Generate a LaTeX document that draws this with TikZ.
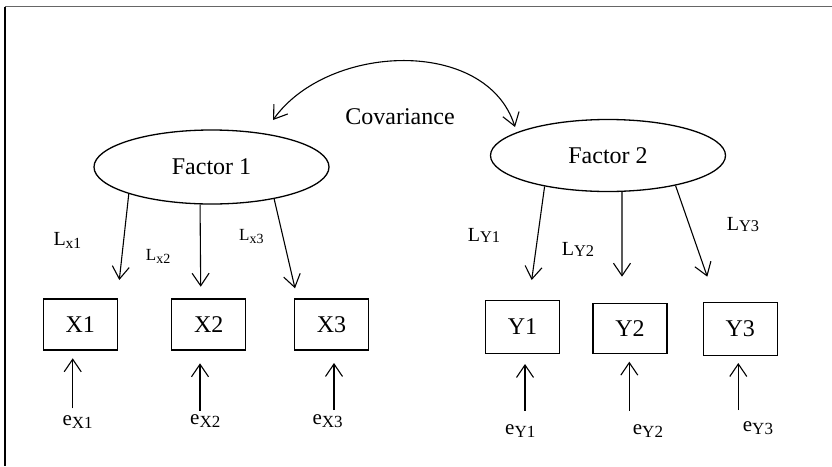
\documentclass[tikz,border=0pt]{standalone}
\usepackage{fontspec}
\setmainfont{Liberation Serif}
\usetikzlibrary{arrows.meta,shapes.geometric}

% symbol with a lowered subscript: main size, symbol, sub size, subscript, drop
\newcommand{\symsub}[5]{{\fontsize{#1}{#1}\selectfont #2}\raisebox{-#5pt}{\fontsize{#3}{#3}\selectfont #4}}

\begin{document}
\begin{tikzpicture}[x=1pt,y=-1pt,
  factor/.style={ellipse,draw,line width=1.3pt,inner sep=0pt,
    minimum width=235pt,minimum height=74pt,font=\fontsize{24}{28}\selectfont},
  obs/.style={rectangle,draw,line width=1.3pt,inner sep=0pt,
    minimum width=74pt,minimum height=51pt,font=\fontsize{24}{28}\selectfont},
  barb/.style={-{Straight Barb[length=12.5pt,width=17pt,line width=1.1pt]},line width=1.1pt},
  lbl/.style={inner sep=0pt,anchor=base west}]

\useasboundingbox (0,0) rectangle (832,466);

% page frame (top and left rules)
\draw[line width=1.6pt,black!60] (4.5,6.5) -- (832,6.5);
\draw[line width=1.3pt] (5,6.5) -- (5,466);

% latent factors
\node[factor] (f1) at (211.5,167) {Factor 1};
\node[factor,minimum height=72pt] (f2) at (608,155.5) {Factor 2};

% covariance between the factors
\coordinate (cvL) at (273,120);
\coordinate (cvR) at (515,127);
\draw[{Straight Barb[length=12.5pt,width=17pt,line width=1.1pt]}-{Straight Barb[length=12.5pt,width=17pt,line width=1.1pt]},line width=1.1pt]
  (cvL) .. controls (328,43) and (486.5,37) .. (cvR);
\node[inner sep=0pt,anchor=base,font=\fontsize{24}{28}\selectfont] (cov) at (400,124.3) {Covariance};

% observed indicators
\node[obs] (x1) at (80.3,324.5) {X1};
\node[obs] (x2) at (208.7,324.5) {X2};
\node[obs] (x3) at (331.5,324.5) {X3};
\node[obs,minimum height=52.6pt] (y1) at (522.5,327) {Y1};
\node[obs,minimum height=50pt] (y2) at (630,328.3) {Y2};
\node[obs,minimum height=53.4pt] (y3) at (740.2,329) {Y3};

% loadings
\coordinate (tx1) at (119.3,280);
\coordinate (tx2) at (200.7,286.7);
\coordinate (tx3) at (295,288.3);
\coordinate (ty1) at (531.7,280);
\coordinate (ty2) at (622,276.7);
\coordinate (ty3) at (707.3,276.7);
\draw[barb] (f1.198.9) -- (tx1);
\draw[barb] (f1.253.6) -- (tx2);
\draw[barb] (f1.333.9) -- (tx3);
\draw[barb] (f2.206.4) -- (ty1);
\draw[barb] (f2.291.3) -- (ty2);
\draw[barb] (f2.336.1) -- (ty3);

\node[lbl] (lx1) at (53.3,245) {\symsub{20}{L}{15.5}{x1}{3}};
\node[lbl] (lx2) at (145.7,260) {\symsub{17}{L}{14}{x2}{3}};
\node[lbl] (lx3) at (239,240) {\symsub{17}{L}{14}{x3}{3}};
\node[lbl] (ly1) at (467.7,241.7) {\symsub{20}{L}{16.4}{Y1}{1}};
\node[lbl] (ly2) at (561.7,255) {\symsub{20}{L}{16.4}{Y2}{1}};
\node[lbl] (ly3) at (726.7,230) {\symsub{20}{L}{16.4}{Y3}{1}};

% error terms
\node[lbl] (ex1) at (62.3,425) {\symsub{21}{e}{17}{X1}{3.5}};
\node[lbl] (ex2) at (190,424) {\symsub{21}{e}{17}{X2}{3.5}};
\node[lbl] (ex3) at (312.3,424) {\symsub{21}{e}{17}{X3}{3.5}};
\node[lbl] (ey1) at (505,434) {\symsub{21}{e}{17}{Y1}{3.5}};
\node[lbl] (ey2) at (632.7,434) {\symsub{21}{e}{17}{Y2}{3.5}};
\node[lbl] (ey3) at (742.7,431) {\symsub{21}{e}{17}{Y3}{3.5}};

\coordinate (sx1) at (72.7,408.3);  \coordinate (hx1) at (72.7,358.3);
\coordinate (sx2) at (200,410.7);   \coordinate (hx2) at (200,363.3);
\coordinate (sx3) at (334,410);     \coordinate (hx3) at (334,363);
\coordinate (sy1) at (525,410.7);   \coordinate (hy1) at (525,364);
\coordinate (sy2) at (629.3,410.7); \coordinate (hy2) at (629.3,361.7);
\coordinate (sy3) at (738.3,410);   \coordinate (hy3) at (738.3,363);
\draw[barb] (sx1) -- (hx1);
\draw[barb] (sx2) -- (hx2);
\draw[barb] (sx3) -- (hx3);
\draw[barb] (sy1) -- (hy1);
\draw[barb] (sy2) -- (hy2);
\draw[barb] (sy3) -- (hy3);
\end{tikzpicture}
\end{document}
